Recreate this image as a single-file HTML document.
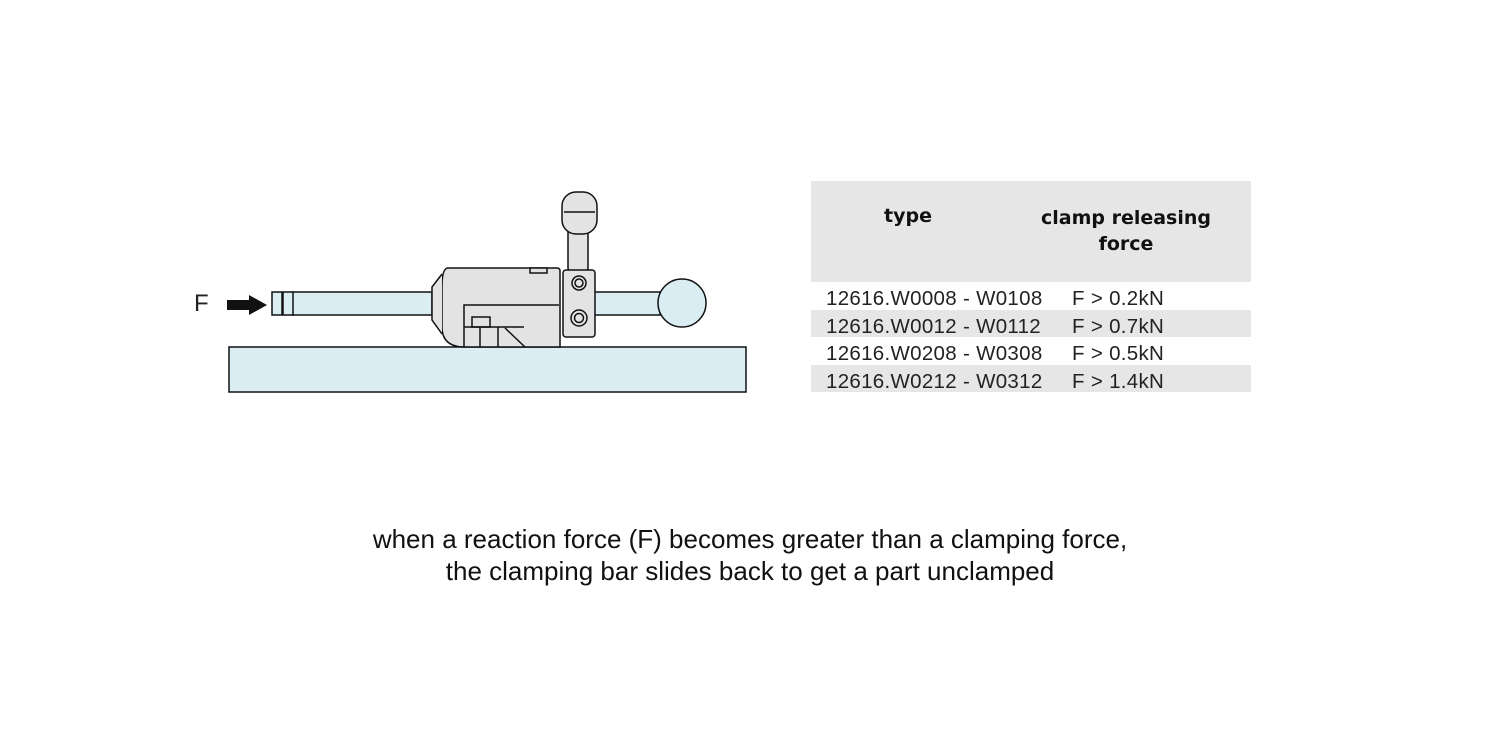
<!DOCTYPE html>
<html><head><style>
body{margin:0;width:1500px;height:750px;background:#fff;position:relative;overflow:hidden;font-family:"Liberation Sans",sans-serif;}
.t{position:absolute;white-space:nowrap;color:#222;}
</style></head><body>
<svg width="1500" height="750" style="position:absolute;left:0;top:0" stroke="#111" stroke-width="1.5" fill="none">
<rect x="229" y="347" width="517" height="45" fill="#d9edf3"/>
<rect x="292" y="292" width="140" height="23" fill="#d9edf3"/>
<rect x="594" y="292" width="66" height="23" fill="#d9edf3"/>
<circle cx="682" cy="303" r="24" fill="#d9edf3"/>
<rect x="272" y="292" width="10" height="23" fill="#d9edf3"/>
<rect x="283" y="292" width="10" height="23" fill="#d9edf3"/>
<path d="M227 300h22v-5l18 10-18 10v-5h-22z" fill="#111" stroke="none"/>
<path d="M448 268h109q3 0 3 3v76h-95q-23 0-23-20v-40q0-19 6-19z" fill="#e3e3e3"/>
<path d="M442 274 L432 287 V320 L442 334" fill="#e3e3e3"/>
<rect x="530" y="268" width="17" height="5" fill="#e3e3e3"/>
<path d="M464 347V305h95"/>
<rect x="472" y="317" width="18" height="10" fill="#e3e3e3"/>
<path d="M464 327h60M480 327v20M498 327v20M505 328l20 19"/>
<rect x="568" y="228" width="20" height="44" rx="4" fill="#e3e3e3"/>
<rect x="562" y="192" width="35" height="42" rx="14" fill="#e3e3e3"/>
<path d="M564 212h31"/>
<rect x="563" y="270" width="32" height="67" rx="3" fill="#e3e3e3"/>
<circle cx="579" cy="283" r="7"/><circle cx="579" cy="283" r="4"/>
<circle cx="579" cy="318" r="8"/><circle cx="579" cy="318" r="4.5"/>
<rect x="811" y="181" width="440" height="101" fill="#e6e6e6" stroke="none"/>
<rect x="811" y="310" width="440" height="27" fill="#e6e6e6" stroke="none"/>
<rect x="811" y="365" width="440" height="27" fill="#e6e6e6" stroke="none"/>
</svg>
<div class="t" style="left:194px;top:290px;font-size:24px">F</div>
<div class="t" style="left:884px;top:205px;font-size:19px;font-weight:bold;font-family:'DejaVu Sans',sans-serif;color:#111">type</div>
<div class="t" style="left:1026px;top:205px;font-size:19px;font-weight:bold;font-family:'DejaVu Sans',sans-serif;color:#111;text-align:center;line-height:26px;width:200px">clamp releasing<br>force</div>
<div class="t" style="left:826px;top:285px;font-size:20.5px;line-height:27.5px;letter-spacing:0.3px">12616.W0008 - W0108<br>12616.W0012 - W0112<br>12616.W0208 - W0308<br>12616.W0212 - W0312</div>
<div class="t" style="left:1072px;top:285px;font-size:20.5px;line-height:27.5px;letter-spacing:0.3px">F &gt; 0.2kN<br>F &gt; 0.7kN<br>F &gt; 0.5kN<br>F &gt; 1.4kN</div>
<div class="t" style="left:0;width:1500px;text-align:center;top:523px;font-size:26px;line-height:32px;color:#111">when a reaction force (F) becomes greater than a clamping force,<br>the clamping bar slides back to get a part unclamped</div>
</body></html>
